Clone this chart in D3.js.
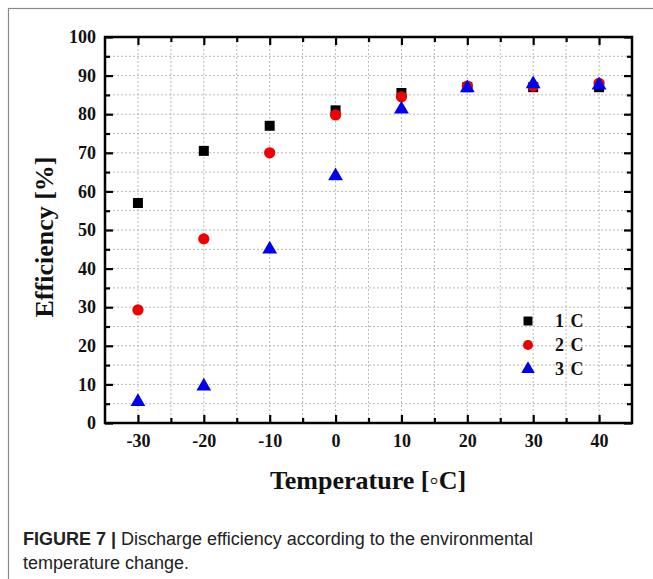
<html>
<head>
<script src="https://d3js.org/d3.v7.min.js" charset="utf-8"></script>
<style>
body { margin: 0; background: white; }
svg { display: block; }
</style>
</head>
<body>
<script>
// chart data
var temps = [-30, -20, -10, 0, 10, 20, 30, 40];
var eff1C = [57, 70.5, 77, 81, 85.5, 87, 87, 87];
var eff2C = [29.3, 47.7, 70, 79.8, 84.5, 87.3, 87.3, 88];
var eff3C = [5.5, 9.5, 45, 64, 81.3, 86.8, 87.8, 87.5];
var seriesNames = ["1 C", "2 C", "3 C"];
var xTicks = [-30, -20, -10, 0, 10, 20, 30, 40];
var yTicks = [0, 10, 20, 30, 40, 50, 60, 70, 80, 90, 100];

var width = 653, height = 579;
var pLeft = 105, pTop = 37, pRight = 632, pBottom = 423;

var svg = d3.select("body").append("svg")
  .attr("width", width).attr("height", height);

// outer figure frame
svg.append("rect")
  .attr("x", 8.5).attr("y", 8.5)
  .attr("width", 700).attr("height", 700)
  .attr("fill", "none").attr("stroke", "#8a8a8a").attr("stroke-width", 1.2);

var x = d3.scaleLinear().domain([-35, 45]).range([pLeft, pRight]);
var y = d3.scaleLinear().domain([0, 100]).range([pBottom, pTop]);

var minorX = d3.range(-30, 45, 5);
var minorY = d3.range(5, 100, 5);

// dotted grid
var grid = svg.append("g").attr("stroke", "#b8b8b8").attr("stroke-width", 1)
  .attr("stroke-dasharray", "2,2");
grid.selectAll(".gx").data(minorX).enter().append("line")
  .attr("x1", d => x(d)).attr("x2", d => x(d))
  .attr("y1", pTop).attr("y2", pBottom);
grid.selectAll(".gy").data(minorY).enter().append("line")
  .attr("y1", d => y(d)).attr("y2", d => y(d))
  .attr("x1", pLeft).attr("x2", pRight);

// axes, ticks pointing inward
var tickFont = "bold 18px 'Liberation Serif', 'Times New Roman', serif";
var fmt = d => String(d);
var xMin = minorX.filter(d => d % 10 != 0);
var yMin = yTicks.map(d => d + 5).filter(d => d < 100);

var xAxis = svg.append("g").attr("transform", "translate(0," + pBottom + ")")
  .call(d3.axisBottom(x).tickValues(xTicks).tickSize(-8).tickPadding(11).tickFormat(fmt));
var xMinor = svg.append("g").attr("transform", "translate(0," + pBottom + ")")
  .call(d3.axisBottom(x).tickValues(xMin).tickSize(-5).tickFormat(""));
var xTop = svg.append("g").attr("transform", "translate(0," + pTop + ")")
  .call(d3.axisTop(x).tickValues(xTicks).tickSize(-8).tickFormat(""));
var xTopMinor = svg.append("g").attr("transform", "translate(0," + pTop + ")")
  .call(d3.axisTop(x).tickValues(xMin).tickSize(-5).tickFormat(""));

var yAxis = svg.append("g").attr("transform", "translate(" + pLeft + ",0)")
  .call(d3.axisLeft(y).tickValues(yTicks).tickSize(-8).tickPadding(9).tickFormat(fmt));
var yMinor = svg.append("g").attr("transform", "translate(" + pLeft + ",0)")
  .call(d3.axisLeft(y).tickValues(yMin).tickSize(-5).tickFormat(""));
var yRight = svg.append("g").attr("transform", "translate(" + pRight + ",0)")
  .call(d3.axisRight(y).tickValues(yTicks).tickSize(-8).tickFormat(""));
var yRightMinor = svg.append("g").attr("transform", "translate(" + pRight + ",0)")
  .call(d3.axisRight(y).tickValues(yMin).tickSize(-5).tickFormat(""));

[xAxis, xMinor, xTop, xTopMinor, yAxis, yMinor, yRight, yRightMinor].forEach(function(a) {
  a.select(".domain").remove();
  a.selectAll(".tick line").attr("stroke", "#000").attr("stroke-width", 2.2);
  a.selectAll("text").style("font", tickFont).attr("fill", "#111");
});

// plot frame
svg.append("rect")
  .attr("x", pLeft).attr("y", pTop)
  .attr("width", pRight - pLeft).attr("height", pBottom - pTop)
  .attr("fill", "none").attr("stroke", "#000").attr("stroke-width", 2.5);

// markers
var sq = d3.symbol().type(d3.symbolSquare).size(100);
var ci = d3.symbol().type(d3.symbolCircle).size(100);
var tr = d3.symbol().type(d3.symbolTriangle).size(95);

function plotSeries(vals, sym, color) {
  svg.append("g").selectAll("path").data(vals).enter().append("path")
    .attr("d", sym)
    .attr("transform", (d, i) => "translate(" + x(temps[i]) + "," + y(d) + ")")
    .attr("fill", color);
}
plotSeries(eff1C, sq, "#000");
plotSeries(eff2C, ci, "#f00000");
plotSeries(eff3C, tr, "#0000ee");

// legend
var legSyms = [d3.symbol().type(d3.symbolSquare).size(80), d3.symbol().type(d3.symbolCircle).size(80), d3.symbol().type(d3.symbolTriangle).size(80)];
var legColors = ["#000", "#f00000", "#0000ee"];
var leg = svg.append("g");
seriesNames.forEach(function(n, i) {
  var ly = 321 + i * 24;
  leg.append("path").attr("d", legSyms[i]).attr("fill", legColors[i])
    .attr("transform", "translate(528," + ly + ")");
  leg.append("text").attr("x", 555).attr("y", ly + 6).text(n)
    .style("font", "bold 18px 'Liberation Serif', 'Times New Roman', serif")
    .style("word-spacing", "2px").attr("fill", "#111");
});

// axis titles
svg.append("text")
  .attr("transform", "translate(53,237) rotate(-90)")
  .attr("text-anchor", "middle")
  .style("font", "bold 26px 'Liberation Serif', 'Times New Roman', serif")
  .attr("fill", "#111")
  .text("Efficiency [%]");
svg.append("text")
  .attr("x", 368).attr("y", 489)
  .attr("text-anchor", "middle")
  .style("font", "bold 26px 'Liberation Serif', 'Times New Roman', serif")
  .attr("fill", "#111")
  .text("Temperature [\u25E6C]");

// caption
var capFont = "18px 'Liberation Sans Narrow', 'Arial Narrow', 'Liberation Sans', sans-serif";
var cap = svg.append("text").attr("x", 23).attr("y", 545)
  .style("font", capFont).attr("fill", "#222");
cap.append("tspan").style("font-weight", "bold").text("FIGURE 7 | ");
cap.append("tspan").text("Discharge efficiency according to the environmental");
svg.append("text").attr("x", 23).attr("y", 569)
  .style("font", capFont).attr("fill", "#222")
  .text("temperature change.");
</script>
</body>
</html>
